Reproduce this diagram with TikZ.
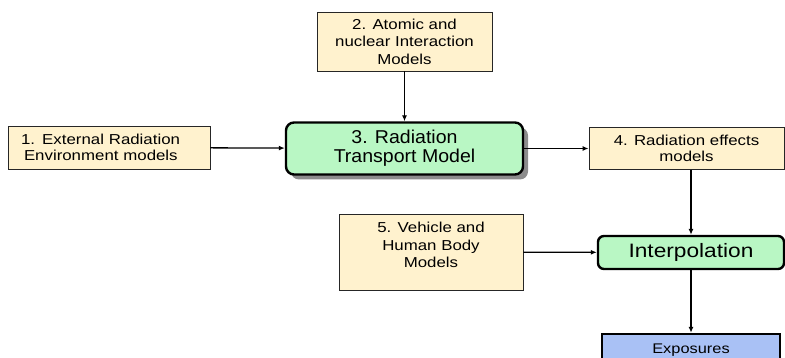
\documentclass[tikz,border=0pt]{standalone}
\usepackage{fontspec}
\setmainfont{Liberation Sans}[FakeStretch=1.05]
\newfontfamily\widesans{Liberation Sans}[FakeStretch=1.17]
\usetikzlibrary{arrows.meta,shadows}
\definecolor{modelfill}{HTML}{FFF2CE}
\definecolor{corefill}{HTML}{B9F7C4}
\definecolor{outfill}{HTML}{A9C1F5}
\tikzset{
  model/.style={draw=black!85, line width=0.9pt, fill=modelfill, align=center,
    font=\widesans\fontsize{14.4}{17.5}\selectfont, inner sep=0pt},
  core/.style={draw=black, line width=2.4pt, fill=corefill, align=center,
    rounded corners=8pt, inner sep=0pt},
  outbox/.style={draw=black, line width=2.4pt, fill=outfill, align=center,
    font=\widesans\fontsize{14}{17.5}\selectfont, inner sep=0pt},
}
\begin{document}
\begin{tikzpicture}[x=1pt,y=-1pt]
      \useasboundingbox (0,0) rectangle (785,358);
      \clip (0,0) rectangle (785,358);
      \draw
        (109,147.5) node[model, minimum width=202, minimum height=43, text width=176, inner xsep=13, align=left,
          font=\widesans\fontsize{14.4}{16}\selectfont] (ext){1. External Radiation\\\hspace*{3pt}Environment models}
        (404.5,41.5) node[model, minimum width=175, minimum height=59] (atomic){2. Atomic and\\nuclear Interaction\\Models}
        (404.5,148.5) node[core, minimum width=237, minimum height=52, font=\fontsize{18.6}{19}\selectfont,
          drop shadow={shadow xshift=5pt, shadow yshift=-5pt, fill=black!45, opacity=1}] (transport){3. Radiation\\Transport Model}
        (686.5,148.5) node[model, minimum width=195, minimum height=42, font=\widesans\fontsize{14.4}{16}\selectfont] (effects){4. Radiation effects\\models}
        (431,252) node[model, minimum width=184, minimum height=76, text depth=14pt] (vehicle){5. Vehicle and\\Human Body\\Models}
        (691,252.5) node[core, rounded corners=6pt, minimum width=186, minimum height=33, font=\widesans\fontsize{19.4}{20}\selectfont] (interp){Interpolation}
        (691,350) node[outbox, minimum width=178, minimum height=32] (expo){Exposures};
      \begin{scope}[line width=1.3pt, -{Latex[length=6pt,width=5pt]}]
        \draw (ext) to (transport);
        \draw (atomic) to (transport);
        \draw (transport) to (effects);
        \draw (effects.south -| interp.north) to (interp.north);
        \draw (vehicle) to (interp);
        \draw (interp) to (expo);
      \end{scope}
    \end{tikzpicture}
\end{document}
